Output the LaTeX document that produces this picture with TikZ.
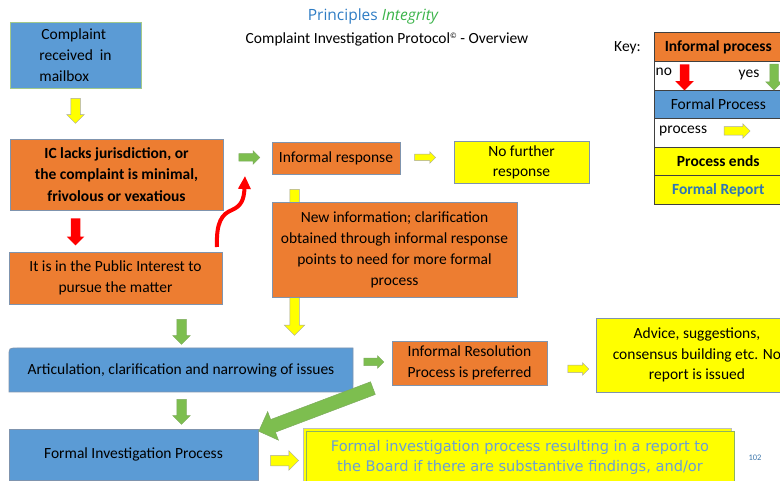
\documentclass[tikz,border=0pt]{standalone}
\usepackage{fontspec}
\setmainfont{Carlito}
\newfontfamily\verd{DejaVu Sans}
\newfontfamily\ttlfont{Open Sans}
\usetikzlibrary{shapes.arrows,arrows.meta}
\definecolor{orangec}{HTML}{ED7D31}
\definecolor{bluec}{HTML}{5B9BD5}
\definecolor{yellowc}{HTML}{FFFF00}
\definecolor{greenc}{HTML}{7DBE4F}
\definecolor{redc}{HTML}{FF0000}
\definecolor{bordc}{HTML}{7F94AE}
\definecolor{cmpbord}{HTML}{A3C98A}
\definecolor{titleblue}{HTML}{2E7CC4}
\definecolor{titlegreen}{HTML}{3CB44B}
\definecolor{repblue}{HTML}{2E75B6}
\definecolor{frtext}{HTML}{6A9FD4}
\definecolor{frbord}{HTML}{8DB360}
\definecolor{keybord}{HTML}{404040}
\tikzset{
  box/.style={draw=bordc, line width=0.7pt, inner sep=2pt, align=center,
    font=\fontsize{15.5}{21}\selectfont, text=black},
  orangebox/.style={box, fill=orangec},
  bluebox/.style={box, fill=bluec},
  yellowbox/.style={box, fill=yellowc},
  blk/.style n args={3}{single arrow, minimum height=#1, minimum width=0pt,
    text height=#2, text depth=0pt, single arrow head extend=#3,
    inner sep=0pt, outer sep=0pt, line width=0.5pt},
  yarr/.style={fill=yellowc, draw=black!35},
  garr/.style={fill=greenc, draw=greenc!70!gray},
  rarr/.style={fill=redc, draw=none},
  keyrow/.style={draw=keybord, line width=0.6pt, minimum width=128pt,
    minimum height=28.6pt, inner sep=0pt, anchor=north west,
    font=\fontsize{15.5}{17}\selectfont},
  small/.style={inner sep=0pt, font=\fontsize{15.5}{17}\selectfont},
}
\begin{document}
\begin{tikzpicture}[x=1pt,y=-1pt]
\useasboundingbox (0,0) rectangle (780,481);

% titles
\node[inner sep=0pt, font=\ttlfont\fontsize{15.5}{17}\selectfont] (title) at (373,16)
  {\color{titleblue}Principles {\color{titlegreen}\itshape Integrity}};
\node[inner sep=0pt, font=\fontsize{15.5}{17}\selectfont] (sub) at (387,39)
  {Complaint Investigation Protocol\raisebox{0.6ex}{\fontsize{8}{8}\selectfont ©} - Overview};

% boxes, column 1
\node[bluebox, draw=cmpbord, minimum width=131pt, minimum height=66pt, align=left] (cmp) at (75.5,55)
  {\hspace{2pt}Complaint\\received\ \ in\\mailbox};
\node[orangebox, minimum width=213pt, minimum height=71pt, font=\fontsize{15.5}{21.5}\selectfont\bfseries] (ic) at (116.5,174.5)
  {IC lacks jurisdiction, or\\the complaint is minimal,\\frivolous or vexatious};
\node[orangebox, minimum width=213pt, minimum height=52pt] (pub) at (115.5,278)
  {It is in the Public Interest to\\pursue the matter};

% informal response row
\node[orangebox, minimum width=128pt, minimum height=32pt] (inf) at (336,158) {Informal response};
\node[yellowbox, minimum width=135pt, minimum height=42pt, font=\fontsize{15.5}{20}\selectfont] (nofur) at (521.5,162)
  {No further\\response};

% long yellow arrow behind new-information box
\node[blk={146pt}{9pt}{5.5pt}, yarr, rotate=-90] (ylong) at (294.5,260) {};
\node[orangebox, minimum width=245pt, minimum height=95pt] (newi) at (394.5,249.5)
  {New information; clarification\\obtained through informal response\\points to need for more formal\\process};

% articulation box (rounded top-left and bottom-right corners)
\filldraw[fill=bluec, draw=bordc, line width=0.7pt]
  (9,392) -- (9,356) .. controls (9,348) .. (17,348) -- (353,348) -- (353,384)
  .. controls (353,392) .. (345,392) -- cycle;
\node[box, draw=none, minimum width=344pt, minimum height=44pt] (art) at (181,370)
  {Articulation, clarification and narrowing of issues};

\node[orangebox, minimum width=155pt, minimum height=44pt, font=\fontsize{15.5}{20.5}\selectfont] (irp) at (469.5,363)
  {Informal Resolution\\Process is preferred};
\node[yellowbox, minimum width=202pt, minimum height=74pt, font=\fontsize{15.5}{20.5}\selectfont] (adv) at (697,355)
  {Advice, suggestions,\\consensus building etc. No\\report is issued};

\node[bluebox, minimum width=249pt, minimum height=51pt] (fip) at (133.5,454.5)
  {Formal Investigation Process};

% bottom yellow report box (double frame)
\filldraw[fill=yellowc, draw=gray!50, line width=0.7pt] (303,428) rectangle (731,500);
\node[box, fill=yellowc, draw=frbord, line width=1pt, minimum width=428pt, minimum height=69pt, anchor=north west] (fr) at (306,431) {};
\node[inner sep=0pt, align=center, text=frtext, font=\verd\fontsize{14.6}{20.5}\selectfont, anchor=north] (frt) at (520,440)
  {Formal investigation process resulting in a report to\\the Board if there are substantive findings, and/or};

\node[inner sep=0pt, text=repblue!80!gray, font=\fontsize{8.5}{9}\selectfont] (pg) at (755,458) {102};

% block arrows
\node[blk={25pt}{9pt}{4pt}, yarr, rotate=-90] (a1) at (75.5,108.5) {};
\node[blk={21pt}{7pt}{3pt}, garr] (a2) at (247.5,157.5) {};
\node[blk={21pt}{6pt}{2.5pt}, yarr] (a3) at (423.5,157.5) {};
\node[blk={27pt}{9pt}{4pt}, rarr, rotate=-90] (a4) at (75.5,229.5) {};
\node[blk={25pt}{9pt}{4pt}, garr, rotate=-90] (a5) at (181.5,329.5) {};
\node[blk={20pt}{7pt}{2.5pt}, garr] (a6) at (372,362) {};
\node[blk={21pt}{7pt}{2.5pt}, yarr] (a7) at (576.5,369) {};
\node[blk={25pt}{9pt}{4pt}, garr, rotate=-90] (a8) at (181.5,409.5) {};
\node[blk={28pt}{10pt}{4.5pt}, yarr] (a9) at (282,460.5) {};
\node[blk={122pt}{13pt}{8.5pt}, garr, rotate=200.7] (a10) at (319,408.5) {};

% red curved arrow
\coordinate (cs) at (217,247);
\coordinate (cm) at (232,210);
\coordinate (ce) at (245,176);
\draw[redc, line width=4pt, -{Triangle[width=12pt,length=13pt]}]
  (cs) .. controls (216,222) and (222,214) .. (cm)
  .. controls (241,206) and (244,200) .. (ce);

% key
\node[small] (keyl) at (627.5,48) {Key:};
\node[keyrow, fill=orangec, font=\fontsize{15.5}{17}\selectfont\bfseries] (k1) at (654,32.5) {Informal process};
\node[keyrow, fill=white] (k2) at (654,61.1) {};
\node[keyrow, fill=bluec] (k3) at (654,89.7) {Formal Process};
\node[keyrow, fill=white] (k4) at (654,118.3) {};
\node[keyrow, fill=yellowc, font=\fontsize{15.5}{17}\selectfont\bfseries] (k5) at (654,146.9) {Process ends};
\node[keyrow, fill=yellowc, text=repblue, font=\fontsize{15.5}{17}\selectfont\bfseries] (k6) at (654,175.5) {Formal Report};
\node[small, anchor=west] (kno) at (655.5,72) {no};
\node[blk={26pt}{9pt}{4.5pt}, rarr, rotate=-90] (kr) at (684.5,75) {};
\node[small] (kyes) at (749,75) {yes};
\node[blk={26pt}{8pt}{4pt}, garr, rotate=-90] (kg) at (774,75) {};
\node[small, anchor=west] (kproc) at (659,131) {process};
\node[blk={26pt}{8pt}{3pt}, yarr] (ky) at (735,131) {};
\end{tikzpicture}
\end{document}
